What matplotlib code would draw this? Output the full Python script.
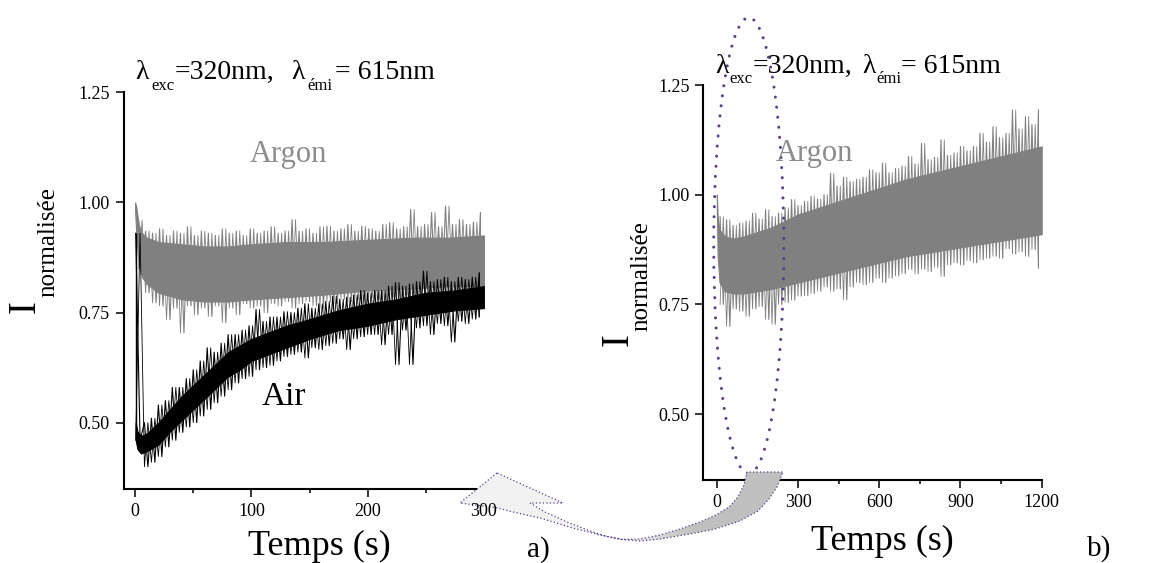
import numpy as np
import matplotlib
matplotlib.use("Agg")
import matplotlib.pyplot as plt
from matplotlib.patches import Ellipse, Polygon

# ---------------- data ----------------
# (a) Argon: dense core band
ar_t  = [0, 1, 3, 6, 10, 20, 40, 60, 80, 100, 130, 160, 200, 240, 270, 300]
ar_hi = [1.00, 0.99, 0.95, 0.93, 0.92, 0.91, 0.905, 0.90, 0.90, 0.905, 0.91, 0.91, 0.915, 0.92, 0.92, 0.925]
ar_lo = [0.98, 0.93, 0.86, 0.83, 0.815, 0.795, 0.78, 0.775, 0.775, 0.78, 0.785, 0.79, 0.80, 0.805, 0.81, 0.81]
# (a) Argon: noise extremes
arn_t  = [3, 9, 15, 21, 27, 33, 39, 45, 51, 57, 63, 69, 75, 81, 87, 93, 99, 105, 111, 117,
          123, 129, 135, 141, 147, 153, 159, 165, 171, 177, 183, 189, 195, 201, 207, 213, 219, 225, 231, 237,
          243, 249, 255, 261, 267, 273, 279, 285, 291, 297]
arn_hi = [0.96, 0.935, 0.93, 0.94, 0.925, 0.935, 0.93, 0.945, 0.925, 0.935,
          0.93, 0.925, 0.94, 0.93, 0.935, 0.925, 0.94, 0.93, 0.935, 0.945,
          0.93, 0.935, 0.961, 0.935, 0.94, 0.93, 0.945, 0.946, 0.935, 0.94,
          0.95, 0.935, 0.946, 0.94, 0.935, 0.95, 0.954, 0.94, 0.945, 0.984,
          0.945, 0.95, 0.977, 0.945, 0.992, 0.95, 0.961, 0.95, 0.955, 0.977]
arn_lo = [0.85, 0.795, 0.772, 0.765, 0.734, 0.76, 0.704, 0.765, 0.745, 0.76,
          0.741, 0.765, 0.727, 0.76, 0.745, 0.77, 0.76, 0.765, 0.75, 0.77,
          0.765, 0.775, 0.76, 0.77, 0.775, 0.765, 0.76, 0.775, 0.77, 0.78,
          0.775, 0.78, 0.77, 0.785, 0.78, 0.775, 0.785, 0.78, 0.79, 0.785,
          0.78, 0.79, 0.785, 0.79, 0.795, 0.785, 0.79, 0.795, 0.79, 0.795]

# (a) Air: dense core band
air_t  = [0.5, 2, 5, 10, 20, 30, 40, 50, 60, 70, 80, 90, 100, 115, 130, 150, 175, 200, 225, 250, 275, 300]
air_hi = [0.50, 0.48, 0.47, 0.475, 0.50, 0.53, 0.56, 0.585, 0.61, 0.635, 0.66, 0.675, 0.69, 0.705, 0.72, 0.735, 0.755, 0.77, 0.78, 0.795, 0.80, 0.81]
air_lo = [0.46, 0.44, 0.43, 0.435, 0.45, 0.48, 0.505, 0.53, 0.555, 0.58, 0.605, 0.62, 0.64, 0.655, 0.67, 0.69, 0.71, 0.72, 0.735, 0.745, 0.755, 0.76]
# (a) Air: noise extremes (first entry = initial drop at t=0)
airn_t  = [0.5, 8, 14, 20, 26, 32, 38, 44, 50, 56, 62, 68, 74, 80, 86, 92, 98, 104, 110, 116,
           122, 128, 134, 140, 146, 152, 158, 164, 170, 176, 182, 188, 194, 200, 206, 212, 218, 224, 230, 236,
           242, 248, 254, 260, 266, 272, 278, 284, 290, 296]
airn_hi = [0.93, 0.50, 0.51, 0.54, 0.55, 0.58, 0.58, 0.60, 0.62, 0.64,
           0.67, 0.66, 0.68, 0.70, 0.70, 0.71, 0.72, 0.757, 0.73, 0.74,
           0.74, 0.752, 0.75, 0.76, 0.77, 0.76, 0.77, 0.775, 0.787, 0.78,
           0.785, 0.79, 0.80, 0.795, 0.80, 0.80, 0.81, 0.818, 0.81, 0.815,
           0.82, 0.844, 0.82, 0.825, 0.83, 0.82, 0.83, 0.825, 0.83, 0.84]
airn_lo = [0.46, 0.40, 0.41, 0.423, 0.445, 0.46, 0.478, 0.49, 0.50, 0.515,
           0.53, 0.545, 0.56, 0.575, 0.59, 0.60, 0.605, 0.62, 0.625, 0.63,
           0.64, 0.65, 0.655, 0.66, 0.647, 0.67, 0.666, 0.675, 0.68, 0.69,
           0.666, 0.69, 0.695, 0.70, 0.70, 0.677, 0.70, 0.632, 0.71, 0.632,
           0.715, 0.72, 0.70, 0.725, 0.72, 0.683, 0.73, 0.725, 0.735, 0.74]

# (b) Argon, long run: dense core band
arb_t  = [0, 3, 10, 30, 60, 100, 150, 200, 300, 400, 500, 600, 700, 800, 900, 1000, 1100, 1200]
arb_hi = [1.00, 0.95, 0.92, 0.905, 0.90, 0.905, 0.915, 0.925, 0.955, 0.975, 0.995, 1.015, 1.035, 1.05, 1.065, 1.08, 1.095, 1.11]
arb_lo = [0.97, 0.86, 0.80, 0.78, 0.775, 0.775, 0.78, 0.785, 0.80, 0.815, 0.83, 0.845, 0.86, 0.87, 0.88, 0.89, 0.90, 0.91]
# (b) Argon: noise extremes
arbn_t  = [12, 36, 60, 84, 108, 132, 156, 180, 204, 228, 252, 276, 300, 324, 348, 372, 396, 420, 444, 468,
           492, 516, 540, 564, 588, 612, 636, 660, 684, 708, 732, 756, 780, 804, 828, 852, 876, 900, 924, 948,
           972, 996, 1020, 1044, 1068, 1092, 1116, 1140, 1164, 1188]
arbn_hi = [0.95, 0.943, 0.93, 0.935, 0.94, 0.958, 0.945, 0.966, 0.95, 0.958,
           0.97, 0.989, 0.975, 0.985, 0.996, 0.99, 1.0, 1.049, 1.02, 1.04,
           1.03, 1.035, 1.04, 1.057, 1.05, 1.072, 1.05, 1.06, 1.065, 1.087,
           1.07, 1.117, 1.08, 1.085, 1.125, 1.09, 1.095, 1.11, 1.10, 1.11,
           1.14, 1.12, 1.155, 1.13, 1.14, 1.193, 1.15, 1.178, 1.16, 1.193]
arbn_lo = [0.75, 0.70, 0.74, 0.735, 0.723, 0.74, 0.745, 0.716, 0.705, 0.75,
           0.755, 0.76, 0.769, 0.77, 0.775, 0.78, 0.79, 0.78, 0.785, 0.761,
           0.79, 0.80, 0.795, 0.80, 0.81, 0.80, 0.81, 0.815, 0.82, 0.83,
           0.82, 0.83, 0.825, 0.835, 0.814, 0.84, 0.845, 0.84, 0.85, 0.845,
           0.852, 0.855, 0.86, 0.855, 0.877, 0.865, 0.87, 0.86, 0.875, 0.833]

yticks = [0.50, 0.75, 1.00, 1.25]
xticks_a = [0, 100, 200, 300]
xminor_a = [50, 150, 250]
xticks_b = [0, 300, 600, 900, 1200]
xminor_b = [150, 450, 750, 1050]

GRAY = "#808080"
PURPLE = "#5a3f80"

# ---------------- figure ----------------
W, H = 1164, 563
plt.rcParams["font.family"] = ["Liberation Serif", "DejaVu Serif"]
fig = plt.figure(figsize=(W / 100, H / 100), dpi=100)


def frac(x0, y0, x1, y1):
    """pixel box (top-left origin) -> figure fraction rect"""
    return [x0 / W, 1 - y1 / H, (x1 - x0) / W, (y1 - y0) / H]


def ftext(x, y, s, **kw):
    return fig.text(x / W, 1 - y / H, s, **kw)


def style_axes(ax, xt, xm, xlim):
    ax.set_xlim(*xlim)
    ax.set_ylim(0.35, 1.25)
    ax.set_xticks(xt)
    ax.set_xticks(xm, minor=True)
    ax.set_yticks(yticks)
    ax.set_yticklabels([f"{v:.2f}" for v in yticks])
    ax.set_xticklabels([str(v) for v in xt])
    for s in ("top", "right"):
        ax.spines[s].set_visible(False)
    for s in ("left", "bottom"):
        ax.spines[s].set_linewidth(1.5)
    ax.tick_params(which="major", direction="out", length=6, width=1.1, labelsize=13, pad=4)
    ax.tick_params(which="minor", direction="out", length=3, width=1.1)
    ax.tick_params(axis="y", which="minor", left=False)


def draw_noisy(ax, t, lo, hi, nt, nlo, nhi, color, z):
    # dense core
    ax.fill_between(t, lo, hi, color=color, lw=0.8, edgecolor=color, zorder=z)
    # noise extremes: steep saw-tooth trace (peak at nt[i], trough half-way to nt[i+1])
    nt = np.asarray(nt, float)
    mid = np.append((nt[:-1] + nt[1:]) / 2.0, nt[-1])
    xs = np.column_stack([nt, mid]).ravel()
    ys = np.column_stack([nhi, nlo]).ravel()
    ax.plot(xs, ys, color=color, lw=0.8, zorder=z)
    # mirrored trace (trough at nt[i], peak half-way) for density
    ys2 = np.column_stack([nlo, nhi]).ravel()
    ax.plot(xs, ys2, color=color, lw=0.6, zorder=z)


# panel a
ax1 = fig.add_axes(frac(123.5, 92.3, 489.7, 488.7))
style_axes(ax1, xticks_a, xminor_a, (-10, 305))
draw_noisy(ax1, ar_t, ar_lo, ar_hi, arn_t, arn_lo, arn_hi, GRAY, 2)
draw_noisy(ax1, air_t, air_lo, air_hi, airn_t, airn_lo, airn_hi, "black", 3)
ax1.vlines([airn_t[0]], air_lo[0], airn_hi[0], color="black", lw=1.0, zorder=3)
ax1.spines["bottom"].set_bounds(-10, 293)
ax1.xaxis.get_major_ticks()[-1].tick1line.set_visible(False)
ax1.patch.set_visible(False)
ax1.set_zorder(4)

# panel b
ax2 = fig.add_axes(frac(703.3, 85, 1041.7, 480))
style_axes(ax2, xticks_b, xminor_b, (-50, 1200))
draw_noisy(ax2, arb_t, arb_lo, arb_hi, arbn_t, arbn_lo, arbn_hi, GRAY, 2)
ax2.set_zorder(0)
ell = Ellipse((118, 0.884), 259, 1.039, transform=ax2.transData, fill=False,
              edgecolor=PURPLE, lw=2.2, linestyle=(0, (0.01, 3.3)), capstyle="round",
              clip_on=False, zorder=5)
ax2.add_patch(ell)

# ---------------- overlay: curved block arrow ----------------
ov = fig.add_axes([0, 0, 1, 1])
ov.axis("off")
ov.patch.set_visible(False)
ov.set_zorder(2)

outline = [
    (497, 473), (460, 503), (498, 508), (513, 512), (540, 518), (573, 528), (600, 535),
    (622, 539.5), (640, 541), (660, 539), (690, 534), (715, 529), (740, 521), (758, 511),
    (769, 499), (777, 487), (783, 472), (747, 472), (744, 485), (738, 497), (729, 507),
    (716, 515), (700, 522), (680, 529), (660, 535), (640, 539), (622, 539.5), (605, 536),
    (590, 531), (567, 522), (545, 512), (530, 503), (563, 503),
]
poly = Polygon(outline, closed=True, facecolor="none", edgecolor="none")
ov.add_patch(poly)
xs = np.linspace(440, 800, 361)
k = np.clip((xs - 615) / 80.0, 0, 1)
c0, c1 = 0xf2 / 255, 0xc0 / 255
col = c0 + (c1 - c0) * k
img = np.stack([col, col, col], axis=-1)[None, :, :]
im = ov.imshow(img, extent=[440, 800, 550, 460], aspect="auto", interpolation="bilinear", zorder=1)
im.set_clip_path(poly)
edge = Polygon(outline, closed=True, facecolor="none", edgecolor=PURPLE, lw=0.9,
               linestyle=(0, (1, 1.8)), zorder=2)
ov.add_patch(edge)
ov.set_xlim(0, W)
ov.set_ylim(H, 0)

# ---------------- texts ----------------
def title(pieces):
    for x, y, s, fs in pieces:
        ftext(x, y, s, fontsize=fs, ha="left", va="baseline", zorder=6)

title([(135, 79.3, "λ", 20), (151, 90, "exc", 12), (175, 79.3, "=320nm,", 20),
       (291, 79.3, "λ", 20), (307, 90, "émi", 12), (335, 79.3, "= 615nm", 20)])
title([(715, 73.3, "λ", 20), (729, 83.3, "exc", 12), (753, 73.3, "=320nm,", 20),
       (862, 73.3, "λ", 20), (876, 83.3, "émi", 12), (901, 73.3, "= 615nm", 20)])

ftext(288, 162, "Argon", fontsize=22, color="#8c8c8c", ha="center", va="baseline")
ftext(814, 161, "Argon", fontsize=22, color="#8c8c8c", ha="center", va="baseline", zorder=6)
ftext(284, 405, "Air", fontsize=24, ha="center", va="baseline")

ftext(319, 555, "Temps (s)", fontsize=26, ha="center", va="baseline")
ftext(882, 550, "Temps (s)", fontsize=26, ha="center", va="baseline")
ftext(527, 557, "a)", fontsize=21, ha="left", va="baseline")
ftext(1087, 556, "b)", fontsize=21, ha="left", va="baseline")

ftext(25, 307, "I", fontsize=28, rotation=90, ha="center", va="center")
ftext(48, 242, "normalisée", fontsize=18, rotation=90, ha="center", va="center")
ftext(618, 340, "I", fontsize=28, rotation=90, ha="center", va="center")
ftext(641, 276, "normalisée", fontsize=18, rotation=90, ha="center", va="center")

fig.savefig("out.png", dpi=100, facecolor="white")
